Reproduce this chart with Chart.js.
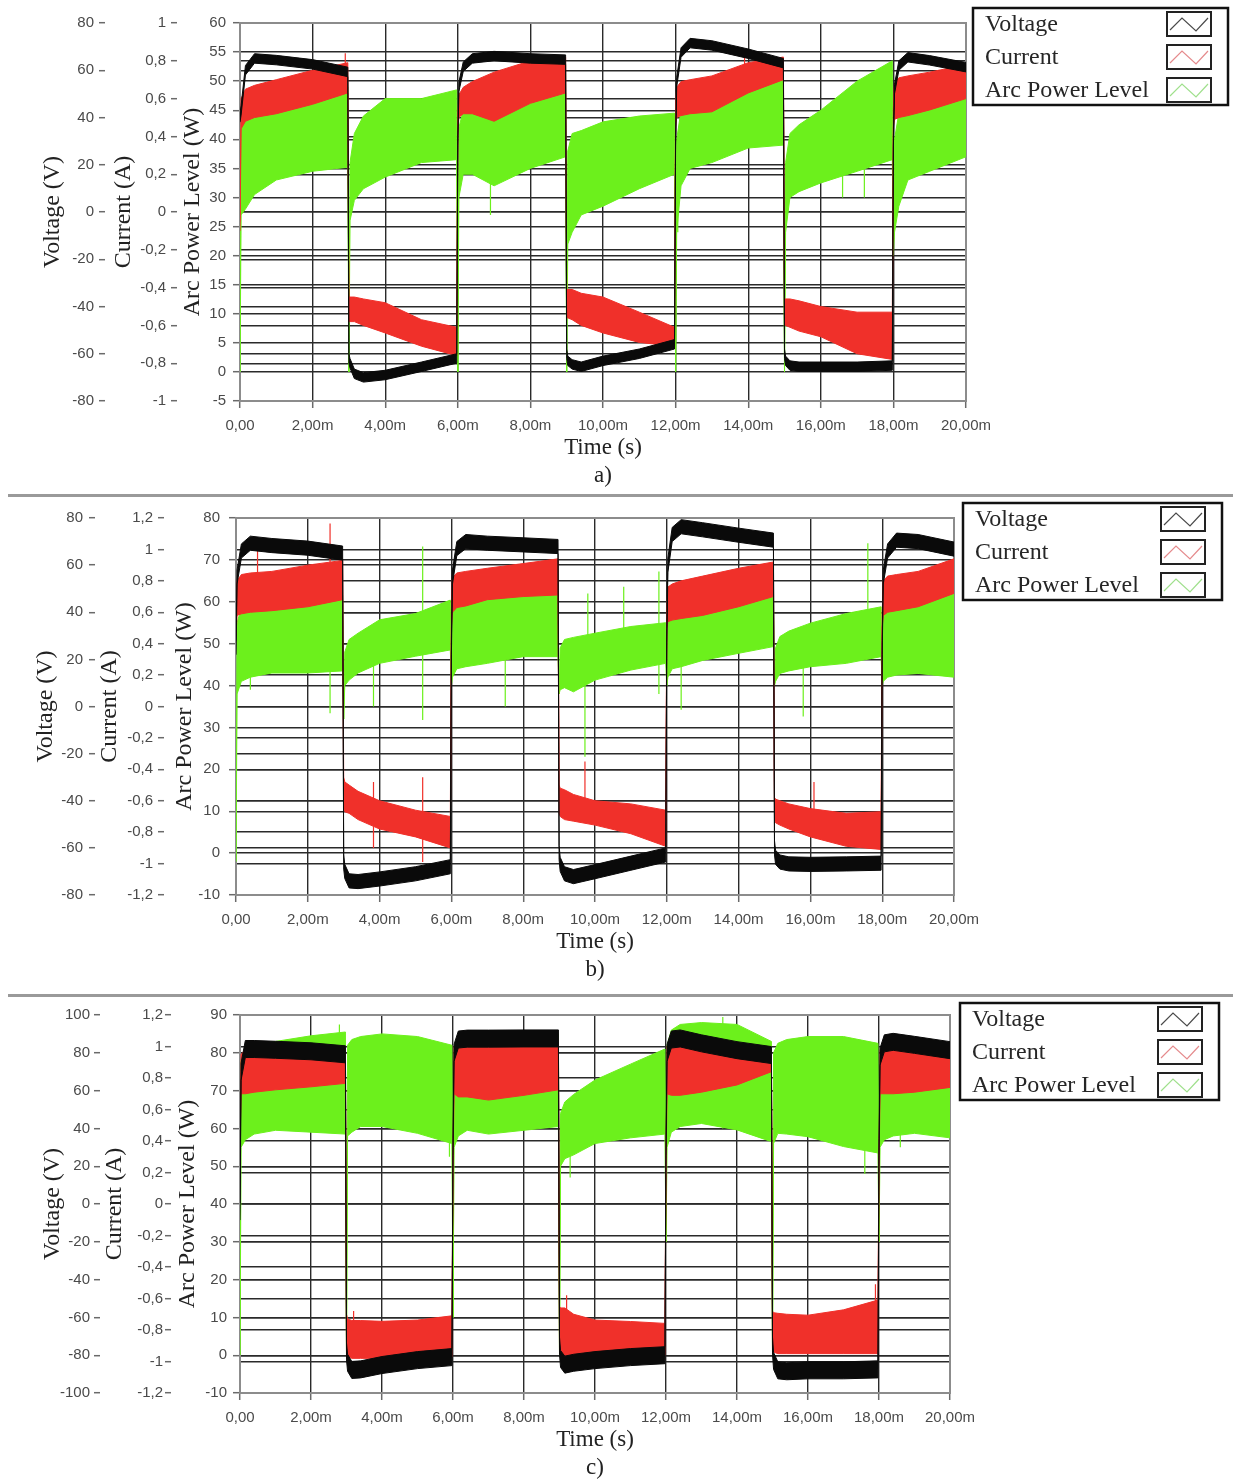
<!DOCTYPE html>
<html><head><meta charset="utf-8">
<script src="https://cdn.jsdelivr.net/npm/chart.js@4.4.1/dist/chart.umd.min.js"></script>
<style>
html,body{margin:0;padding:0;background:#fff;width:1233px;height:1483px;overflow:hidden;position:relative}
canvas{position:absolute;left:0}
.sep{position:absolute;left:8px;width:1225px;height:3px;background:#9a9a9a}
</style></head><body>
<canvas id="ca" width="1233" height="494" style="top:0px"></canvas>
<div class="sep" style="top:494px"></div>
<canvas id="cb" width="1233" height="491" style="top:497px"></canvas>
<div class="sep" style="top:994px"></div>
<canvas id="cc" width="1233" height="489" style="top:997px"></canvas>
<script>
// ---------- shared time axis (ms) ----------
const timeMs = [0, 0.03, 0.15, 0.4, 1, 2, 2.97,
  3, 3.03, 3.15, 3.4, 4, 5, 5.97,
  6, 6.03, 6.15, 6.4, 7, 8, 8.97,
  9, 9.03, 9.15, 9.4, 10, 11, 11.97,
  12, 12.03, 12.15, 12.4, 13, 14, 14.97,
  15, 15.03, 15.15, 15.4, 16, 17, 17.97,
  18, 18.03, 18.15, 18.4, 19, 20];
const xTickValues = [0, 2, 4, 6, 8, 10, 12, 14, 16, 18, 20];
const xTickLabels = ['0,00', '2,00m', '4,00m', '6,00m', '8,00m', '10,00m', '12,00m', '14,00m', '16,00m', '18,00m', '20,00m'];
const legendNames = ['Voltage', 'Current', 'Arc Power Level'];

// ---------- panel a ----------
const voltHiA = [42, 45, 62, 67, 66.3, 64.5, 61.3, -60, -62, -66.5, -68, -67, -63.5, -60, 32, 55, 63.5, 67, 68, 67, 66.5, -58, -61, -62.5, -63.5, -61, -58, -54, 32, 57, 69.5, 73.5, 72.5, 69, 65, -58, -61, -63, -63.5, -63.5, -63.5, -63, 32, 54, 64, 67.5, 66.2, 63.3];
const voltLoA = [38, 41, 58, 63, 62.3, 60.5, 57.3, -64, -66, -70.5, -72, -71, -67.5, -64, 28, 51, 59.5, 63, 64, 63, 62.5, -62, -65, -66.5, -67.5, -65, -62, -58, 28, 53, 65.5, 69.5, 68.5, 65, 61, -62, -65, -67, -67.5, -67.5, -67.5, -67, 28, 50, 60, 63.5, 62.2, 59.3];
const currHiA = [-0.05, 0.6, 0.65, 0.67, 0.7, 0.75, 0.79, -0.45, -0.45, -0.45, -0.46, -0.48, -0.57, -0.61, 0.5, 0.62, 0.66, 0.69, 0.74, 0.8, 0.82, -0.41, -0.41, -0.41, -0.43, -0.45, -0.53, -0.61, 0.55, 0.66, 0.69, 0.7, 0.72, 0.79, 0.82, -0.46, -0.46, -0.46, -0.47, -0.5, -0.53, -0.53, 0.55, 0.68, 0.71, 0.72, 0.74, 0.78];
const currLoA = [-0.1, 0.44, 0.48, 0.5, 0.52, 0.57, 0.63, -0.58, -0.58, -0.58, -0.6, -0.64, -0.71, -0.76, 0.4, 0.5, 0.52, 0.52, 0.48, 0.575, 0.63, -0.56, -0.56, -0.57, -0.6, -0.64, -0.69, -0.71, 0.45, 0.5, 0.51, 0.52, 0.53, 0.63, 0.7, -0.6, -0.6, -0.61, -0.63, -0.66, -0.75, -0.78, 0.45, 0.49, 0.5, 0.51, 0.54, 0.6];
const powHiA = [0, 42, 43.5, 44.5, 45.5, 47.5, 49, 0, 36, 41, 44, 47, 47, 48.5, 0, 42, 45, 45, 44, 46.5, 48.5, 0, 38, 41, 41.5, 43, 44, 44.5, 0, 40, 45, 45, 45.5, 48.5, 50.5, 0, 36, 41, 42.5, 45, 50, 53.5, 20, 40, 44.5, 45, 46, 48];
const powLoA = [0, 27, 28, 30.5, 33, 34.5, 35.2, 0, 26, 29.5, 31.5, 33.5, 36, 36.5, 0, 30, 34, 34, 32, 35, 37, 0, 22, 24, 27, 28.5, 31.5, 34, 0, 24, 32, 35, 36, 38.5, 39, 0, 24, 30, 31, 32.5, 34.5, 36.5, 20, 24, 28.5, 33, 34.5, 37];
const voltTicksA = [80, 60, 40, 20, 0, -20, -40, -60, -80];
const voltLabelsA = ['80', '60', '40', '20', '0', '-20', '-40', '-60', '-80'];
const currTicksA = [1, 0.8, 0.6, 0.4, 0.2, 0, -0.2, -0.4, -0.6, -0.8, -1];
const currLabelsA = ['1', '0,8', '0,6', '0,4', '0,2', '0', '-0,2', '-0,4', '-0,6', '-0,8', '-1'];
const powTicksA = [60, 55, 50, 45, 40, 35, 30, 25, 20, 15, 10, 5, 0, -5];
const powLabelsA = ['60', '55', '50', '45', '40', '35', '30', '25', '20', '15', '10', '5', '0', '-5'];
// isolated spikes (time ms, low end, high end)
const powSpikeTA = [6.9, 12.06, 16.6, 17.2];
const powSpikeLoA = [27, 24, 30, 30];
const powSpikeHiA = [40, 40, 45, 50];
const currSpikeTA = [2.9, 13.9];
const currSpikeLoA = [0.7, 0.75];
const currSpikeHiA = [0.84, 0.84];

// ---------- panel b ----------
const voltHiB = [28, 58, 69, 72.3, 71.3, 70.2, 68.1, -63, -67, -71, -71.3, -70.2, -68, -65, 28, 58, 70, 73, 72.3, 71.6, 70.9, -59, -64, -68, -69.2, -67.1, -63.5, -60, 33, 63, 76, 79.3, 78, 75.7, 73.6, -57, -61, -63, -63.8, -64, -63.8, -63.5, 28, 58, 69, 73.6, 73, 69.8];
const voltLoB = [22, 52, 63, 66.3, 65.3, 64.2, 62.1, -69, -73, -77, -77.3, -76.2, -74, -71, 22, 52, 64, 67, 66.3, 65.6, 64.9, -65, -70, -74, -75.2, -73.1, -69.5, -66, 27, 57, 70, 73.3, 72, 69.7, 67.6, -63, -67, -69, -69.8, -70, -69.8, -69.5, 22, 52, 63, 67.6, 67, 63.8];
const currHiB = [0.5, 0.8, 0.84, 0.85, 0.86, 0.9, 0.93, -0.45, -0.48, -0.5, -0.54, -0.6, -0.66, -0.7, 0.6, 0.82, 0.85, 0.86, 0.88, 0.91, 0.94, -0.5, -0.52, -0.53, -0.56, -0.6, -0.62, -0.66, 0.6, 0.76, 0.78, 0.8, 0.83, 0.88, 0.92, -0.58, -0.59, -0.6, -0.62, -0.65, -0.68, -0.67, 0.6, 0.8, 0.83, 0.84, 0.86, 0.94];
const currLoB = [0.45, 0.58, 0.59, 0.6, 0.61, 0.635, 0.68, -0.65, -0.67, -0.68, -0.72, -0.78, -0.83, -0.9, 0.5, 0.6, 0.63, 0.64, 0.68, 0.7, 0.71, -0.68, -0.7, -0.72, -0.73, -0.755, -0.81, -0.89, 0.5, 0.54, 0.55, 0.56, 0.58, 0.635, 0.7, -0.72, -0.74, -0.755, -0.78, -0.83, -0.89, -0.91, 0.5, 0.58, 0.6, 0.61, 0.635, 0.72];
const powHiB = [-2, 55, 58.5, 58.5, 59, 60, 61.5, 32, 48, 51, 52.5, 55.7, 57.2, 60.4, 40, 57, 59.5, 60, 61.5, 62, 62.5, 38, 49, 51, 51.5, 52.5, 54.1, 55, 40, 55, 56.5, 57, 57.8, 59.8, 62.2, 40, 49, 51.7, 53, 54.9, 57.2, 58.8, 40, 56, 58.5, 59, 59.8, 63];
const powLoB = [-2, 38, 41, 42, 43, 43, 43.5, 32, 40, 41.3, 43, 45.3, 47, 48.5, 40, 42, 44, 44.5, 45.3, 46.9, 46.9, 38, 39, 39.5, 38.5, 41.3, 43.7, 45.3, 40, 42, 44, 44.5, 46, 47.7, 49.3, 40, 41, 42.9, 43.5, 44.5, 45.3, 46.9, 40, 41, 42, 42.5, 42.9, 42];
const voltTicksB = [80, 60, 40, 20, 0, -20, -40, -60, -80];
const voltLabelsB = ['80', '60', '40', '20', '0', '-20', '-40', '-60', '-80'];
const currTicksB = [1.2, 1, 0.8, 0.6, 0.4, 0.2, 0, -0.2, -0.4, -0.6, -0.8, -1, -1.2];
const currLabelsB = ['1,2', '1', '0,8', '0,6', '0,4', '0,2', '0', '-0,2', '-0,4', '-0,6', '-0,8', '-1', '-1,2'];
const powTicksB = [80, 70, 60, 50, 40, 30, 20, 10, 0, -10];
const powLabelsB = ['80', '70', '60', '50', '40', '30', '20', '10', '0', '-10'];
const powSpikeTB = [0.4, 2.62, 3.83, 5.2, 7.5, 9.72, 9.8, 10.8, 11.78, 12.4, 15.8, 17.6];
const powSpikeLoB = [39, 33.4, 35, 31.8, 35, 23, 45, 45, 38, 34.2, 32.6, 50];
const powSpikeHiB = [50, 50, 48, 73.2, 50, 45, 62, 63.6, 67.2, 50, 50, 74];
const currSpikeTB = [0.6, 2.62, 3.83, 5.2, 7.9, 9.72, 12.3, 16.1];
const currSpikeLoB = [0.8, 0.62, -0.9, -0.99, 0.48, -0.6, 0.35, -0.7];
const currSpikeHiB = [0.99, 1.165, -0.48, -0.45, 0.8, -0.35, 0.7, -0.48];

// ---------- panel c ----------
const voltHiC = [0.5, 74.5, 86.5, 86.5, 86.1, 85.3, 83.7, -73.5, -79.5, -83.3, -83, -80.7, -78.1, -76.5, 34.5, 84.5, 91.5, 92, 92, 92.1, 92.1, -70.5, -77.5, -80.5, -79.5, -78.1, -76.5, -75.5, 34.5, 84.5, 91.5, 92.1, 89.5, 85.9, 83.3, -70.5, -78.5, -83.5, -84, -83.5, -83.5, -83, 34.5, 82.5, 89.5, 90.3, 88.7, 85.9];
const voltLoC = [-8.5, 65.5, 77.5, 77.5, 77.1, 76.3, 74.7, -82.5, -88.5, -92.3, -92, -89.7, -87.1, -85.5, 25.5, 75.5, 82.5, 83, 83, 83.1, 83.1, -79.5, -86.5, -89.5, -88.5, -87.1, -85.5, -84.5, 25.5, 75.5, 82.5, 83.1, 80.5, 76.9, 74.3, -79.5, -87.5, -92.5, -93, -92.5, -92.5, -92, 25.5, 73.5, 80.5, 81.3, 79.7, 76.9];
const currHiC = [0.5, 0.95, 0.98, 0.98, 0.98, 0.98, 0.98, -0.7, -0.73, -0.74, -0.74, -0.745, -0.737, -0.71, 0.3, 1.0, 1.03, 1.03, 1.03, 1.03, 1.03, -0.65, -0.66, -0.66, -0.7, -0.737, -0.746, -0.758, 0.3, 1.0, 1.03, 1.03, 1.02, 1.0, 0.98, -0.68, -0.69, -0.694, -0.7, -0.706, -0.672, -0.61, 0.3, 0.98, 1.0, 1.0, 1.0, 0.98];
const currLoC = [0.4, 0.7, 0.7, 0.71, 0.725, 0.744, 0.766, -0.97, -0.97, -0.98, -0.98, -0.98, -0.97, -0.97, 0.25, 0.7, 0.68, 0.68, 0.66, 0.69, 0.725, -0.95, -0.96, -0.96, -0.96, -0.96, -0.96, -0.96, 0.25, 0.7, 0.69, 0.69, 0.71, 0.756, 0.84, -0.94, -0.94, -0.95, -0.95, -0.95, -0.95, -0.95, 0.25, 0.7, 0.7, 0.7, 0.71, 0.74];
const powHiC = [0, 78, 81, 82, 83, 84.5, 85.5, 0, 82, 83.5, 84.3, 85, 84.3, 82, 10, 80, 84, 84, 84.5, 85.5, 85, 0, 64, 67, 69, 72.8, 77, 81, 30, 82, 86, 87.5, 88, 87.5, 83, 0, 80, 82.5, 83.5, 84.3, 84.3, 82.5, 30, 78, 80, 80.5, 80.5, 80];
const powLoC = [0, 55, 57, 58.5, 59.5, 59, 58.5, 0, 58, 59, 60.5, 60.5, 58.7, 56, 10, 55, 58, 59.5, 58.5, 59.5, 60.5, 0, 50, 52, 53, 56, 57.5, 58.5, 30, 55, 59, 60.5, 61.3, 59.6, 56.5, 0, 56, 58.7, 58.5, 57.8, 55.2, 53.5, 30, 55, 57, 58, 58.7, 57.5];
const voltTicksC = [100, 80, 60, 40, 20, 0, -20, -40, -60, -80, -100];
const voltLabelsC = ['100', '80', '60', '40', '20', '0', '-20', '-40', '-60', '-80', '-100'];
const currTicksC = [1.2, 1, 0.8, 0.6, 0.4, 0.2, 0, -0.2, -0.4, -0.6, -0.8, -1, -1.2];
const currLabelsC = ['1,2', '1', '0,8', '0,6', '0,4', '0,2', '0', '-0,2', '-0,4', '-0,6', '-0,8', '-1', '-1,2'];
const powTicksC = [90, 80, 70, 60, 50, 40, 30, 20, 10, 0, -10];
const powLabelsC = ['90', '80', '70', '60', '50', '40', '30', '20', '10', '0', '-10'];
const powSpikeTC = [2.8, 5.9, 9.3, 13.6, 17.6, 18.6];
const powSpikeLoC = [60, 52.5, 47, 60, 48, 55];
const powSpikeHiC = [87.5, 60, 55, 89.5, 60, 60];
const currSpikeTC = [3.2, 9.2, 17.9];
const currSpikeLoC = [-0.8, -0.8, -0.7];
const currSpikeHiC = [-0.68, -0.58, -0.51];

// ---------- styling ----------
const SERIF = '"Liberation Serif", "Times New Roman", serif';
const SANS = '"Liberation Sans", Arial, sans-serif';
const COL_V = '#0a0a0a', COL_I = '#f0302a', COL_P = '#6cf01c';
const ICON_COLORS = ['#4a4a4a', '#e58a8c', '#9fe08c'];
const GRID = '#2a2a2a';
const TICK_FONT = {family: SANS, size: 15};
const TICK_COLOR = '#4a4a4a';

function band(hi, lo, color, axis, label) {
  const base = {yAxisID: axis, borderColor: color, backgroundColor: color, borderWidth: 1,
    pointRadius: 0, tension: 0};
  return [
    Object.assign({label: label, data: timeMs.map((t, i) => ({x: t, y: hi[i]})), fill: '+1'}, base),
    Object.assign({label: label + ' (min)', data: timeMs.map((t, i) => ({x: t, y: lo[i]})), fill: false}, base)
  ];
}

function spikes(ts, lo, hi, color, axis, label) {
  const data = [];
  ts.forEach((t, i) => { data.push({x: t, y: lo[i]}, {x: t, y: hi[i]}, {x: t, y: null}); });
  return {label: label + ' spikes', data, yAxisID: axis, borderColor: color, borderWidth: 1.2,
    pointRadius: 0, fill: false, spanGaps: false};
}

function yAxis(o) {
  return {
    type: 'linear', position: 'left', weight: o.weight,
    min: Math.min(...o.ticks), max: Math.max(...o.ticks),
    afterBuildTicks: s => { s.ticks = o.ticks.map(v => ({value: v})); },
    afterFit: s => { s.width = o.width; },
    ticks: {callback: (v, i) => o.labels[i], font: TICK_FONT, color: TICK_COLOR,
      padding: o.labelPad, autoSkip: false},
    grid: {color: GRID, lineWidth: 1.4, drawOnChartArea: true, drawTicks: true,
      tickLength: o.tickLen, tickColor: '#6a6a6a', tickWidth: 1.5},
    border: {display: false},
    title: {display: true, text: o.title, font: {family: SERIF, size: 24}, color: '#222',
      padding: {top: o.titlePad, bottom: 0}}
  };
}

const framePlugin = {
  id: 'frame',
  beforeDatasetsDraw(chart) {
    const {ctx, chartArea: a} = chart;
    ctx.save();
    ctx.strokeStyle = '#8c8c8c';
    ctx.lineWidth = 2;
    ctx.strokeRect(a.left, a.top, a.right - a.left, a.bottom - a.top);
    ctx.restore();
  }
};

const legendPlugin = {
  id: 'boxLegend',
  afterDraw(chart, args, o) {
    const ctx = chart.ctx;
    ctx.save();
    ctx.fillStyle = '#fff';
    ctx.fillRect(o.x, o.y, o.w, o.h);
    ctx.lineWidth = 2.5;
    ctx.strokeStyle = '#111';
    ctx.strokeRect(o.x, o.y, o.w, o.h);
    ctx.font = '24px ' + SERIF;
    ctx.textBaseline = 'middle';
    legendNames.forEach((name, i) => {
      const cy = o.y + 16 + i * 33;
      ctx.fillStyle = '#262626';
      ctx.fillText(name, o.x + 12, cy + 1);
      const iw = 44, ih = 24, ix = o.x + o.w - 61, iy = cy - 12;
      ctx.lineWidth = 2;
      ctx.strokeStyle = '#222';
      ctx.strokeRect(ix, iy, iw, ih);
      ctx.beginPath();
      ctx.moveTo(ix + 3, iy + ih - 6);
      ctx.lineTo(ix + 15, iy + 6);
      ctx.lineTo(ix + 29, iy + ih - 5);
      ctx.lineTo(ix + 41, iy + 6);
      ctx.strokeStyle = ICON_COLORS[i];
      ctx.lineWidth = 1.2;
      ctx.stroke();
    });
    ctx.restore();
  }
};

function makePanel(id, p) {
  const datasets = [].concat(
    band(p.vHi, p.vLo, COL_V, 'yV', 'Voltage'),
    band(p.iHi, p.iLo, COL_I, 'yI', 'Current'),
    band(p.pHi, p.pLo, COL_P, 'yP', 'Arc Power Level'),
    [spikes(p.iSpT, p.iSpLo, p.iSpHi, COL_I, 'yI', 'Current'),
     spikes(p.pSpT, p.pSpLo, p.pSpHi, COL_P, 'yP', 'Arc Power Level')]
  );
  return new Chart(document.getElementById(id), {
    type: 'line',
    data: {datasets},
    plugins: [framePlugin, legendPlugin],
    options: {
      responsive: false, animation: false, devicePixelRatio: 1, events: [],
      layout: {padding: {left: p.padLeft, top: p.padTop, right: p.padRight, bottom: 0}},
      plugins: {legend: {display: false}, tooltip: {enabled: false}, boxLegend: p.legend},
      scales: {
        x: {
          type: 'linear', min: 0, max: 20,
          afterBuildTicks: s => { s.ticks = xTickValues.map(v => ({value: v})); },
          afterFit: s => { s.height = p.xHeight; },
          ticks: {callback: (v, i) => xTickLabels[i], font: TICK_FONT, color: TICK_COLOR,
            padding: 9, maxRotation: 0, autoSkip: false},
          grid: {color: GRID, lineWidth: 1.4, tickLength: 7, tickColor: '#6a6a6a', tickWidth: 1.5},
          border: {display: false},
          title: {display: true, text: ['Time (s)', p.caption], font: {family: SERIF, size: 23},
            color: '#222', padding: {top: 0, bottom: p.xTitlePad}}
        },
        yV: yAxis({weight: 3, ticks: p.vTicks, labels: p.vLabels, width: p.w[0], labelPad: p.lp[0], tickLen: 6,
          title: 'Voltage (V)', titlePad: p.tp[0]}),
        yI: yAxis({weight: 2, ticks: p.iTicks, labels: p.iLabels, width: p.w[1], labelPad: p.lp[1], tickLen: 6,
          title: 'Current (A)', titlePad: p.tp[1]}),
        yP: yAxis({weight: 1, ticks: p.pTicks, labels: p.pLabels, width: p.w[2], labelPad: p.lp[2], tickLen: 7,
          title: 'Arc Power Level (W)', titlePad: p.tp[2]})
      }
    }
  });
}

makePanel('ca', {
  vHi: voltHiA, vLo: voltLoA, iHi: currHiA, iLo: currLoA, pHi: powHiA, pLo: powLoA,
  iSpT: currSpikeTA, iSpLo: currSpikeLoA, iSpHi: currSpikeHiA,
  pSpT: powSpikeTA, pSpLo: powSpikeLoA, pSpHi: powSpikeHiA,
  vTicks: voltTicksA, vLabels: voltLabelsA, iTicks: currTicksA, iLabels: currLabelsA,
  pTicks: powTicksA, pLabels: powLabelsA,
  padLeft: 38, padTop: 23, padRight: 267, w: [67, 72, 63], lp: [5, 5, 7], tp: [0, 4, 1],
  xHeight: 93, xTitlePad: 4.6, caption: 'a)',
  legend: {x: 973, y: 8, w: 255, h: 97}
});
makePanel('cb', {
  vHi: voltHiB, vLo: voltLoB, iHi: currHiB, iLo: currLoB, pHi: powHiB, pLo: powLoB,
  iSpT: currSpikeTB, iSpLo: currSpikeLoB, iSpHi: currSpikeHiB,
  pSpT: powSpikeTB, pSpLo: powSpikeLoB, pSpHi: powSpikeHiB,
  vTicks: voltTicksB, vLabels: voltLabelsB, iTicks: currTicksB, iLabels: currLabelsB,
  pTicks: powTicksB, pLabels: powLabelsB,
  padLeft: 31, padTop: 21, padRight: 279, w: [64, 69, 72], lp: [6, 5, 9], tp: [0, 0, 6],
  xHeight: 93, xTitlePad: 4.6, caption: 'b)',
  legend: {x: 963, y: 6, w: 259, h: 97}
});
makePanel('cc', {
  vHi: voltHiC, vLo: voltLoC, iHi: currHiC, iLo: currLoC, pHi: powHiC, pLo: powLoC,
  iSpT: currSpikeTC, iSpLo: currSpikeLoC, iSpHi: currSpikeHiC,
  pSpT: powSpikeTC, pSpLo: powSpikeLoC, pSpHi: powSpikeHiC,
  vTicks: voltTicksC, vLabels: voltLabelsC, iTicks: currTicksC, iLabels: currLabelsC,
  pTicks: powTicksC, pLabels: powLabelsC,
  padLeft: 38, padTop: 18, padRight: 283, w: [62, 71, 69], lp: [4, 2, 6], tp: [0, 0, 2],
  xHeight: 93, xTitlePad: 4.6, caption: 'c)',
  legend: {x: 960, y: 6, w: 259, h: 97}
});
</script>
</body></html>
